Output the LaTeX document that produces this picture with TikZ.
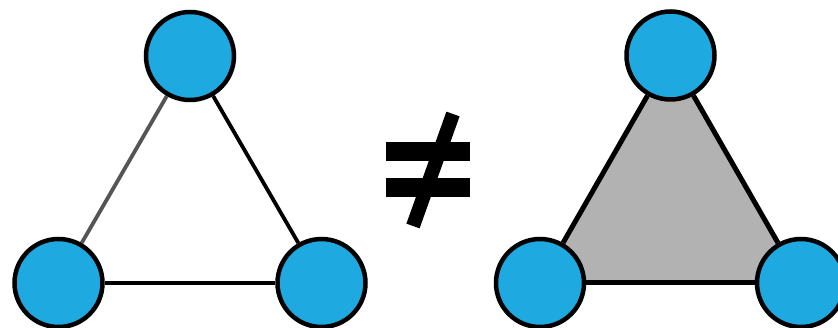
\documentclass[tikz,border=0pt]{standalone}
\usetikzlibrary{backgrounds}
\definecolor{nodeblue}{RGB}{30,170,225}
\definecolor{trigray}{RGB}{178,178,178}
\definecolor{edgegray}{RGB}{85,85,85}
\tikzset{
  vtx/.style={circle, draw=black, line width=4.5pt, fill=nodeblue, minimum size=88pt, inner sep=0pt},
  edge/.style={line width=3.8pt, draw=black},
  grayedge/.style={line width=3.8pt, draw=edgegray},
  thickedge/.style={line width=5pt, draw=black},
  neqbar/.style={fill=black, draw=none},
  neqslash/.style={line width=14pt, draw=black}
}
\begin{document}
\begin{tikzpicture}[x=1pt,y=-1pt]
\useasboundingbox (0,0) rectangle (838,328);
% left triangle
\node[vtx] (lt) at (190,56) {};
\node[vtx] (ll) at (58.5,283) {};
\node[vtx] (lr) at (321.5,283) {};
% not-equal sign
\fill[neqbar] (386,142) rectangle (470,161);
\fill[neqbar] (386,178) rectangle (470,197);
\coordinate (s1) at (453,114);
\coordinate (s2) at (413,226);
\draw[neqslash] (s1) -- (s2);
% right triangle
\node[vtx] (rt) at (670.5,55.5) {};
\node[vtx] (rl) at (540,283) {};
\node[vtx] (rr) at (801,283) {};
\begin{scope}[on background layer]
\fill[white] (0,0) rectangle (838,328);
\draw[grayedge] (lt) -- (ll);
\draw[edge] (lt) -- (lr);
\draw[edge] (ll) -- (lr);
\fill[trigray] (rt.center) -- (rl.center) -- (rr.center) -- cycle;
\draw[thickedge] (rt) -- (rl);
\draw[thickedge] (rt) -- (rr);
\draw[thickedge] (rl) -- (rr);
\end{scope}
\end{tikzpicture}
\end{document}
